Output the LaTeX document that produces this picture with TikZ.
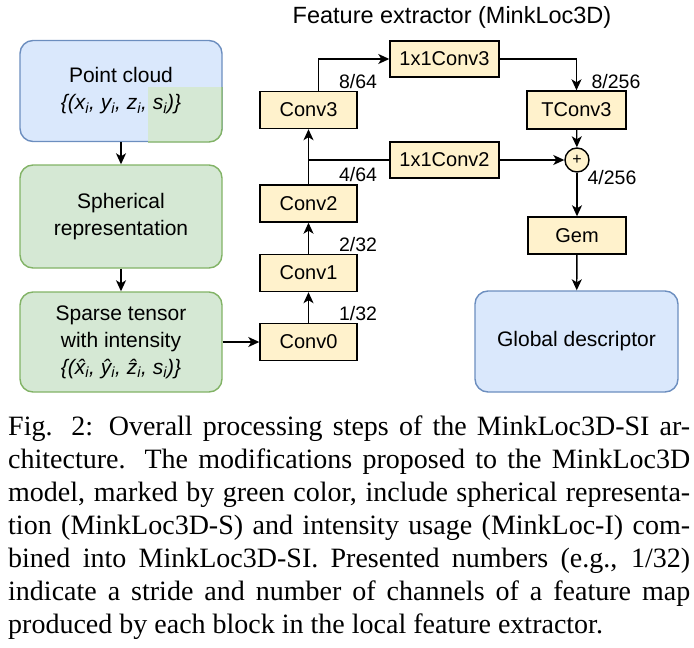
\documentclass[tikz,border=0pt]{standalone}
\usepackage{fontspec}
\setmainfont{Liberation Serif}
\setsansfont{Liberation Sans}
\usetikzlibrary{arrows.meta,positioning}
\definecolor{pcblue}{HTML}{DAE8FC}
\definecolor{pcbluedraw}{HTML}{6C8EBF}
\definecolor{modgreen}{HTML}{D5E8D4}
\definecolor{modgreendraw}{HTML}{82B366}
\definecolor{convyellow}{HTML}{FFF2CC}
\tikzset{
  convbox/.style={draw=black, fill=convyellow, line width=1.4pt, minimum width=97pt, minimum height=37pt, inner sep=0pt, font=\sffamily\fontsize{20}{24}\selectfont},
  bluebox/.style={draw=pcbluedraw, fill=pcblue, line width=1.4pt, rounded corners=13pt, minimum width=202pt, minimum height=101pt, inner sep=0pt, align=center, font=\sffamily\fontsize{21}{27}\selectfont},
  greenbox/.style={bluebox, draw=modgreendraw, fill=modgreen},
  numlabel/.style={inner sep=0pt, font=\sffamily\fontsize{19.5}{22}\selectfont},
  flow/.style={line width=1.4pt, -{Stealth[length=11pt,width=10pt,inset=3pt]}}
}
\begin{document}
\begin{tikzpicture}[x=1pt, y=-1pt]
    \useasboundingbox (0,0) rectangle (694,648);

    % title of the extractor part
    \node (title) [inner sep=0pt, font=\sffamily\fontsize{23.5}{26}\selectfont] at (452,17) {Feature extractor (MinkLoc3D)};

    % input branch
    \node (pc) [bluebox] at (121,91) {};
    \begin{scope}
        \clip[rounded corners=13pt] (20,40) rectangle (222,142);
        \fill[modgreen] (148,87) rectangle (222,142);
    \end{scope}
    \begin{scope}
        \clip (148,87) rectangle (226,146);
        \draw[modgreendraw, line width=1.4pt, rounded corners=13pt] (20,40) rectangle (222,142);
    \end{scope}
    \node (pctext) [inner sep=0pt, align=center, font=\sffamily\fontsize{21}{27}\selectfont] at (pc) {Point cloud\\ \textit{\{(x\textsubscript{i}, y\textsubscript{i}, z\textsubscript{i}, s\textsubscript{i})\}}};
    \node (sph) [greenbox, minimum height=103pt] at (121,216.5) {Spherical\\ representation};
    \node (sparse) [greenbox, minimum height=100pt] at (121,342) {Sparse tensor\\ with intensity\\ \textit{\{(\^{x}\textsubscript{i}, \^{y}\textsubscript{i}, \^{z}\textsubscript{i}, s\textsubscript{i})\}}};

    % local feature extractor
    \node (conv0) [convbox] at (308.5,342) {Conv0};
    \node (conv1) [convbox] at (308.5,273) {Conv1};
    \node (conv2) [convbox] at (308.5,203.5) {Conv2};
    \node (conv3) [convbox] at (308.5,110) {Conv3};
    \node (lat3) [convbox, minimum width=109pt, minimum height=36pt] at (444.5,59) {1x1Conv3};
    \node (lat2) [convbox, minimum width=109pt, minimum height=36pt] at (444.5,160) {1x1Conv2};
    \node (tconv3) [convbox, minimum width=99pt, minimum height=38pt] at (576.5,110) {TConv3};
    \node (plus) [draw=black, fill=convyellow, line width=1.4pt, circle, minimum size=24pt, inner sep=0pt, font=\sffamily\fontsize{16}{18}\selectfont] at (577,160) {+};
    \node (gem) [convbox, minimum width=98pt] at (577,235.5) {Gem};
    \node (gd) [bluebox, minimum width=203pt] at (576.5,341.5) {Global descriptor};

    % stride / channels
    \node (n0) [numlabel] at (358,314) {1/32};
    \node (n1) [numlabel] at (358,245) {2/32};
    \node (n2) [numlabel] at (358,175) {4/64};
    \node (n3) [numlabel] at (358,82) {8/64};
    \node (nt) [numlabel] at (616,82) {8/256};
    \node (np) [numlabel] at (612,178) {4/256};

    \coordinate (split) at (conv2.north |- lat2.west);
    \coordinate (up3) at ([xshift=10pt]conv3.north);

    \draw[flow] (pc) -- (sph);
    \draw[flow] (sph) -- (sparse);
    \draw[flow] (sparse) -- (conv0);
    \draw[flow] (conv0) -- (conv1);
    \draw[flow] (conv1) -- (conv2);
    \draw[flow] (conv2) -- (conv3);
    \draw[line width=1.4pt] (split) -- (lat2.west);
    \draw[flow] (up3) |- (lat3.west);
    \draw[flow] (lat3.east) -| (tconv3.north);
    \draw[flow] (tconv3) -- (plus);
    \draw[flow] (lat2) -- (plus);
    \draw[flow] (plus) -- (gem);
    \draw[flow] (gem) -- (gd);

    % caption
    \node (caption) [anchor=north west, inner sep=0pt, text width=682pt, align=justify, font=\rmfamily\fontsize{28}{33}\selectfont] at (8,416) {Fig. 2: Overall processing steps of the MinkLoc3D-SI ar-\linebreak chitecture. The modifications proposed to the MinkLoc3D\linebreak model, marked by green color, include spherical representa-\linebreak tion (MinkLoc3D-S) and intensity usage (MinkLoc-I) com-\linebreak bined into MinkLoc3D-SI. Presented numbers (e.g., 1/32)\linebreak indicate a stride and number of channels of a feature map\linebreak produced by each block in the local feature extractor.};
\end{tikzpicture}
\end{document}
